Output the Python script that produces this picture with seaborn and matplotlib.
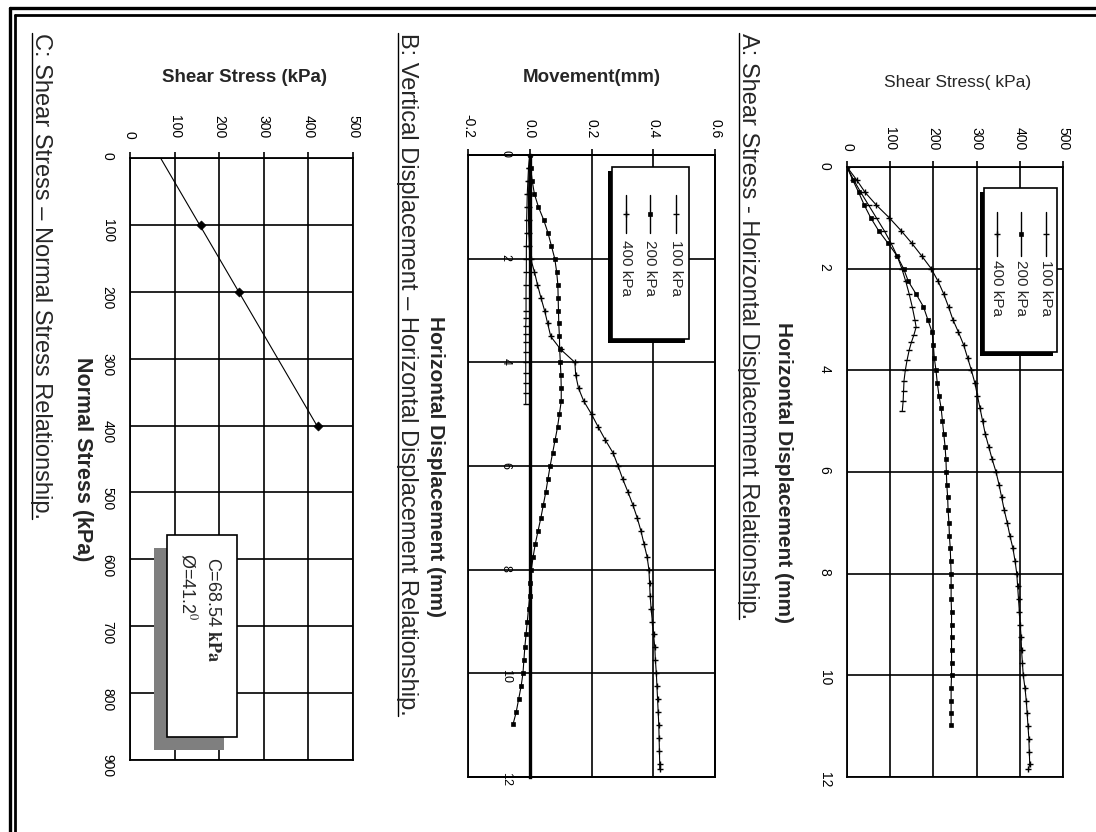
import matplotlib
matplotlib.use("Agg")
import matplotlib.pyplot as plt
import seaborn as sns
import pandas as pd
from matplotlib.patches import Rectangle
from matplotlib.lines import Line2D

# ---------------- data ----------------
legend_labels = ["100 kPa", "200 kPa", "400 kPa"]

# Chart A: shear stress vs horizontal displacement
disp_a_100 = [0, 0.25, 0.5, 0.75, 1.0, 1.25, 1.5, 1.75, 2.0, 2.25, 2.5, 2.75, 3.0,
              3.15, 3.3, 3.45, 3.6, 3.8, 4.0, 4.2, 4.4, 4.6, 4.8]
shear_a_100 = [0, 15, 32, 50, 68, 86, 102, 116, 127, 136, 144, 151, 157,
               160, 155, 149, 144, 139, 135, 132, 131, 130, 128]

disp_a_200 = [0, 0.25, 0.5, 0.75, 1.0, 1.25, 1.5, 1.75, 2.0, 2.25,
              2.5, 2.75, 3.0, 3.25, 3.5, 3.75, 4.0, 4.25, 4.5, 4.75,
              5.0, 5.25, 5.5, 5.75, 6.0, 6.25, 6.5, 6.75, 7.0, 7.25,
              7.5, 7.75, 8.0, 8.25, 8.5, 8.75, 9.0, 9.25, 9.5, 9.75,
              10.0, 10.25, 10.5, 10.75, 10.98]
shear_a_200 = [0, 13, 27, 40, 55, 73, 95, 116, 131, 142,
               160, 177, 187, 197, 200, 202, 206, 209, 213, 218,
               221, 224, 227, 229, 230, 231, 233, 234, 236, 237,
               239, 240, 241, 241, 241, 242, 242, 242, 242, 242,
               242, 241, 241, 241, 241]

disp_a_400 = [0, 0.25, 0.5, 0.75, 1.0, 1.25, 1.5, 1.75, 2.0, 2.25,
              2.5, 2.75, 3.0, 3.25, 3.5, 3.75, 4.0, 4.25, 4.5, 4.75,
              5.0, 5.25, 5.5, 5.75, 6.0, 6.25, 6.5, 6.75, 7.0, 7.25,
              7.5, 7.75, 8.0, 8.25, 8.5, 8.75, 9.0, 9.25, 9.5, 9.75,
              10.0, 10.25, 10.5, 10.75, 11.0, 11.25, 11.5, 11.75, 11.85]
shear_a_400 = [0, 22, 42, 68, 98, 125, 150, 173, 195, 211,
               224, 235, 245, 258, 270, 279, 288, 296, 302, 308,
               314, 320, 328, 336, 345, 352, 358, 364, 371, 377,
               384, 389, 393, 395, 397, 399, 401, 403, 404, 406,
               408, 412, 415, 417, 419, 421, 422, 423, 420]

# Chart B: vertical movement vs horizontal displacement
mov_b_100 = [0, -0.004, -0.006, -0.008, -0.009, -0.010, -0.010, -0.011, -0.011, -0.011,
             -0.012, -0.012, -0.012, -0.012, -0.013, -0.013, -0.013, -0.013, -0.013,
             -0.013, -0.013, -0.013, -0.013]
mov_b_200 = [0, 0.003, 0.008, 0.015, 0.028, 0.045, 0.059, 0.070, 0.081, 0.087,
             0.091, 0.092, 0.093, 0.094, 0.096, 0.097, 0.099, 0.101, 0.102, 0.102,
             0.096, 0.090, 0.082, 0.074, 0.066, 0.059, 0.052, 0.044, 0.036, 0.027,
             0.018, 0.011, 0.005, 0.002, 0.0, -0.004, -0.008, -0.012, -0.016, -0.019,
             -0.022, -0.028, -0.036, -0.044, -0.054]
mov_b_400 = [0, -0.002, -0.003, -0.004, -0.004, -0.004, -0.003, -0.001, 0.003, 0.015,
             0.025, 0.036, 0.048, 0.058, 0.068, 0.100, 0.146, 0.149, 0.158, 0.175,
             0.200, 0.222, 0.245, 0.270, 0.286, 0.301, 0.318, 0.334, 0.348, 0.360,
             0.370, 0.380, 0.386, 0.388, 0.390, 0.393, 0.397, 0.401, 0.405, 0.407,
             0.410, 0.412, 0.414, 0.416, 0.418, 0.419, 0.420, 0.421, 0.421]

# Chart C: shear stress vs normal stress
normal_c = [100, 200, 400]
shear_c = [160, 245, 422]
fit_normal_c = [0, 400]
fit_shear_c = [68.5, 419]

# tick labels
shear_ticks = [0, 100, 200, 300, 400, 500]
disp_ticks = [0, 2, 4, 6, 8, 10, 12]
mov_ticks = [-0.2, 0.0, 0.2, 0.4, 0.6]
mov_ticklabels = ["-0.2", "0.0", "0.2", "0.4", "0.6"]
normal_ticks = [0, 100, 200, 300, 400, 500, 600, 700, 800, 900]

titles = ["A: Shear Stress - Horizontal Displacement Relationship.",
          "B: Vertical Displacement \u2013 Horizontal Displacement Relationship.",
          "C: Shear Stress \u2013 Normal Stress Relationship."]

# ---------------- style ----------------
sns.set_style("white")
plt.rcParams["font.family"] = ["Liberation Sans", "DejaVu Sans"]
plt.rcParams["mathtext.fontset"] = "stix"

W, H = 1096, 832
fig = plt.figure(figsize=(W / 100, H / 100), dpi=100)
fig.patch.set_facecolor("white")


def fx(px):
    return px / W


def fy(py):
    return 1 - py / H


def style_axes(ax):
    for s in ax.spines.values():
        s.set_color("black")
        s.set_linewidth(1.3)
    ax.set_facecolor("white")
    ax.grid(True, color="black", linewidth=1.2)
    ax.set_axisbelow(True)
    ax.tick_params(direction="out", length=4, width=1.2, color="black",
                   labelsize=10, labelcolor="black")


markers = {"100 kPa": dict(marker="_", markersize=5, markeredgewidth=1.0),
           "200 kPa": dict(marker="s", markersize=3.2, markeredgewidth=0.5),
           "400 kPa": dict(marker="+", markersize=5, markeredgewidth=1.0)}

# ---------------- Chart A ----------------
axA = fig.add_axes([fx(847), fy(777), (1063 - 847) / W, (777 - 167) / H])
style_axes(axA)
dfA = pd.concat([
    pd.DataFrame({"shear": shear_a_100, "disp": disp_a_100, "load": legend_labels[0]}),
    pd.DataFrame({"shear": shear_a_200, "disp": disp_a_200, "load": legend_labels[1]}),
    pd.DataFrame({"shear": shear_a_400, "disp": disp_a_400, "load": legend_labels[2]}),
])
for lab in legend_labels:
    sns.lineplot(data=dfA[dfA["load"] == lab], x="shear", y="disp", sort=False,
                 estimator=None, color="black", linewidth=0.8, ax=axA,
                 markeredgecolor="black", markerfacecolor="black", **markers[lab])
axA.set_xlim(0, 500)
axA.set_ylim(12, 0)
axA.set_xticks(shear_ticks)
axA.set_xticklabels([str(v) for v in shear_ticks])
axA.set_yticks(disp_ticks)
axA.set_yticklabels([str(v) for v in disp_ticks])
axA.xaxis.tick_top()
axA.tick_params(axis="x", labelrotation=-90, pad=8)
axA.tick_params(axis="y", labelrotation=-90, pad=7)
axA.set_xlabel("")
axA.set_ylabel("")

# ---------------- Chart B ----------------
axB = fig.add_axes([fx(468), fy(777), (715 - 468) / W, (777 - 155) / H])
style_axes(axB)
dfB = pd.concat([
    pd.DataFrame({"mov": mov_b_100, "disp": disp_a_100, "load": legend_labels[0]}),
    pd.DataFrame({"mov": mov_b_200, "disp": disp_a_200, "load": legend_labels[1]}),
    pd.DataFrame({"mov": mov_b_400, "disp": disp_a_400, "load": legend_labels[2]}),
])
for lab in legend_labels:
    sns.lineplot(data=dfB[dfB["load"] == lab], x="mov", y="disp", sort=False,
                 estimator=None, color="black", linewidth=0.8, ax=axB,
                 markeredgecolor="black", markerfacecolor="black", **markers[lab])
axB.set_xlim(-0.2, 0.6)
axB.set_ylim(12, 0)
axB.set_xticks(mov_ticks)
axB.set_xticklabels(mov_ticklabels)
axB.set_yticks(disp_ticks)
axB.set_yticklabels([str(v) for v in disp_ticks])
axB.xaxis.tick_top()
axB.spines["left"].set_position(("data", 0))
axB.spines["left"].set_linewidth(2.4)
axB.tick_params(axis="x", labelrotation=-90, pad=8)
axB.tick_params(axis="y", labelrotation=-90, pad=9, labelsize=9)
axB.add_patch(Rectangle((0, 0), 1, 1, transform=axB.transAxes, fill=False,
                        edgecolor="black", linewidth=1.3, clip_on=False, zorder=3))
axB.set_xlabel("")
axB.set_ylabel("")

# ---------------- Chart C ----------------
axC = fig.add_axes([fx(130), fy(760), (353 - 130) / W, (760 - 158) / H])
style_axes(axC)
sns.lineplot(x=fit_shear_c, y=fit_normal_c, sort=False, estimator=None,
             color="black", linewidth=0.8, ax=axC)
sns.scatterplot(x=shear_c, y=normal_c, marker="D", s=22, color="black",
                edgecolor="black", ax=axC, zorder=4)
axC.set_xlim(0, 500)
axC.set_ylim(900, 0)
axC.set_xticks(shear_ticks)
axC.set_xticklabels([str(v) for v in shear_ticks])
axC.set_yticks(normal_ticks)
axC.set_yticklabels([str(v) for v in normal_ticks])
axC.xaxis.tick_top()
axC.tick_params(axis="x", labelrotation=-90, pad=10)
axC.tick_params(axis="y", labelrotation=-90, pad=7)
axC.set_xlabel("")
axC.set_ylabel("")

# ---------------- axis titles ----------------
fig.text(fx(958), fy(82), "Shear Stress( kPa)", ha="center", va="center", fontsize=12.5)
fig.text(fx(592), fy(77), "Movement(mm)", ha="center", va="center", fontsize=13.5,
         fontweight="bold")
fig.text(fx(245), fy(77), "Shear Stress (kPa)", ha="center", va="center", fontsize=13.5,
         fontweight="bold")
fig.text(fx(783), fy(472), "Horizontal Displacement (mm)", rotation=-90, ha="center",
         va="center", fontsize=15, fontweight="bold")
fig.text(fx(435), fy(466), "Horizontal Displacement (mm)", rotation=-90, ha="center",
         va="center", fontsize=15, fontweight="bold")
fig.text(fx(82), fy(459), "Normal Stress (kPa)", rotation=-90, ha="center",
         va="center", fontsize=15.5, fontweight="bold")

# ---------------- chart captions (underlined) ----------------
title_objs = []
for xc, txt in zip([748, 407, 41], titles):
    t = fig.text(fx(xc), fy(33), txt, rotation=-90, rotation_mode="anchor",
                 ha="left", va="center", fontsize=17)
    title_objs.append(t)


# ---------------- custom legends (rotated layout) ----------------
def draw_legend(box, shadow_dx, xs, y_line0, y_line1, y_text):
    x0, y0, x1, y1 = box
    fig.add_artist(Rectangle((fx(x0 - shadow_dx), fy(y1 + shadow_dx)),
                             (x1 - x0) / W, (y1 - y0) / H, transform=fig.transFigure,
                             facecolor="black", edgecolor="none", zorder=5))
    fig.add_artist(Rectangle((fx(x0), fy(y1)), (x1 - x0) / W, (y1 - y0) / H,
                             transform=fig.transFigure, facecolor="white",
                             edgecolor="black", linewidth=1.2, zorder=6))
    for lab, xpos in zip(legend_labels, xs):
        ym = (y_line0 + y_line1) / 2
        fig.add_artist(Line2D([fx(xpos)] * 3, [fy(y_line0), fy(ym), fy(y_line1)],
                              transform=fig.transFigure, color="black", linewidth=1.0,
                              markevery=[1], markeredgecolor="black",
                              markerfacecolor="black", zorder=7, **markers[lab]))
        fig.text(fx(xpos), fy(y_text), lab, rotation=-90, rotation_mode="anchor",
                 ha="left", va="center", fontsize=11, zorder=8)


draw_legend((984, 188, 1057, 352), 4, [1046, 1021, 997], 212, 256, 260)
draw_legend((612, 167, 689, 339), 4, [676, 650, 626], 195, 233, 240)

# ---------------- annotation box in chart C ----------------
fig.add_artist(Rectangle((fx(154), fy(750)), (237 - 167) / W, (737 - 535) / H,
                         transform=fig.transFigure, facecolor="#7f7f7f",
                         edgecolor="none", zorder=5))
fig.add_artist(Rectangle((fx(167), fy(737)), (237 - 167) / W, (737 - 535) / H,
                         transform=fig.transFigure, facecolor="white",
                         edgecolor="black", linewidth=1.2, zorder=6))
fig.text(fx(212), fy(557), r"C=68.54 $\mathbf{kPa}$", rotation=-90, rotation_mode="anchor",
         ha="left", va="center", fontsize=13, zorder=8)
fig.text(fx(188), fy(553), "\u00d8=41.2$^0$", rotation=-90,
         rotation_mode="anchor", ha="left", va="center", fontsize=13, zorder=8)

# ---------------- page frame ----------------
fig.add_artist(Line2D([fx(10), 1], [fy(8), fy(8)], transform=fig.transFigure,
                      color="black", linewidth=2.4))
fig.add_artist(Line2D([fx(15), 1], [fy(15), fy(15)], transform=fig.transFigure,
                      color="black", linewidth=2.0))
fig.add_artist(Line2D([fx(10), fx(10)], [fy(8), 0], transform=fig.transFigure,
                      color="black", linewidth=2.4))
fig.add_artist(Line2D([fx(15), fx(15)], [fy(15), 0], transform=fig.transFigure,
                      color="black", linewidth=2.0))

# underline captions
fig.canvas.draw()
renderer = fig.canvas.get_renderer()
inv = fig.transFigure.inverted()
for t in title_objs:
    bb = t.get_window_extent(renderer)
    (ux0, uy0) = inv.transform((bb.x0 + 2, bb.y0))
    (ux1, uy1) = inv.transform((bb.x0 + 2, bb.y1))
    fig.add_artist(Line2D([ux0, ux1], [uy0, uy1], transform=fig.transFigure,
                          color="black", linewidth=1.0))

fig.savefig("out.png", dpi=100, facecolor="white")
